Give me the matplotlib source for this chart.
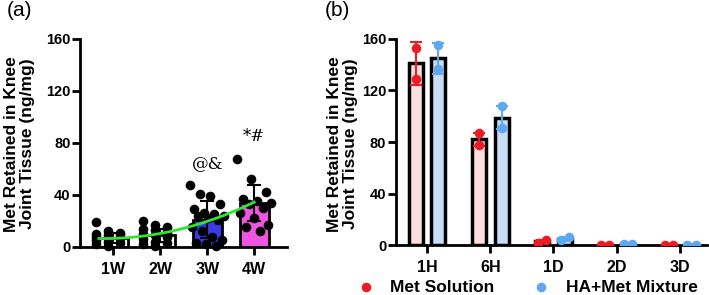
import numpy as np
import matplotlib.pyplot as plt

plt.rcParams['font.family'] = ['Liberation Sans', 'DejaVu Sans']

# ---------------- panel (a) data ----------------
weeks = ["1W", "2W", "3W", "4W"]
week_means = [7, 9, 21, 34]
week_sd = [4, 5, 14, 14]
week_colors = ["white", "white", "#3a3ae8", "#ee55e0"]
pts_1w = [19, 12, 11, 10, 9, 8, 8, 7, 6, 5, 4, 3, 2, 1, 10]
pts_2w = [20, 17, 15, 14, 13, 12, 10, 9, 8, 6, 4, 3, 2, 1, 11]
pts_3w = [48, 41, 39, 33, 29, 26, 25, 24, 24, 22, 21, 15, 12, 8, 5, 3, 2, 1]
pts_4w = [68, 52, 42, 37, 35, 34, 33, 30, 26, 22, 17, 15, 12]
week_points = [pts_1w, pts_2w, pts_3w, pts_4w]
mark_text = ["@&", "*#"]
mark_week = [2, 3]
mark_y = [64, 85]

# ---------------- panel (b) data ----------------
times = ["1H", "6H", "1D", "2D", "3D"]
sol_means = [141, 82, 3, 0.5, 0.3]
sol_err = [17, 5, 1, 0.2, 0.1]
sol_pts = [[153, 129], [87, 78], [2, 4], [0.5, 0.5], [0.2, 0.2]]
mix_means = [145, 99, 5, 1, 0.3]
mix_err = [12, 9, 1, 0.2, 0.1]
mix_pts = [[155, 137], [108, 91], [4, 6], [1, 1], [0.2, 0.2]]

red = "#ec1c24"
blue = "#5ea8f2"
ylab = "Met Retained in Knee\nJoint Tissue (ng/mg)"

fig = plt.figure(figsize=(7.09, 2.95), dpi=100)
axa = fig.add_axes([0.113, 0.163, 0.292, 0.705])
axb = fig.add_axes([0.5585, 0.169, 0.439, 0.699])

for ax in (axa, axb):
    for s in ("top", "right"):
        ax.spines[s].set_visible(False)
    for s in ("left", "bottom"):
        ax.spines[s].set_linewidth(2)
    ax.tick_params(width=2, length=6)
    ax.tick_params(axis="y", pad=1, labelsize=10.5)
    ax.tick_params(axis="x", pad=5, labelsize=11.5)
    ax.set_ylim(0, 160)
    ax.set_yticks([0, 40, 80, 120, 160])
    for lab in ax.get_yticklabels():
        lab.set_fontweight("bold")

# y labels placed as figure text so both panels line up like the original
fig.text(0.027, 0.513, ylab, rotation=90, ha="center", va="center", fontsize=12.5,
         fontweight="bold", linespacing=1.1)
fig.text(0.483, 0.513, ylab, rotation=90, ha="center", va="center", fontsize=12.5,
         fontweight="bold", linespacing=1.1)

# panel (a)
xa = np.arange(len(weeks))
axa.bar(xa, week_means, width=0.62, color=week_colors, edgecolor="black",
        linewidth=2, zorder=2)
axa.errorbar(xa, week_means, yerr=week_sd, fmt="none", ecolor="black",
             elinewidth=1.5, capsize=5, capthick=1.5, zorder=3)
for i, pts in enumerate(week_points):
    n = len(pts)
    slots = np.linspace(-0.36, 0.36, n)
    xs = slots[(np.arange(n) * 5) % n]  # spread the dots across the bar
    axa.scatter(i + xs, pts, s=48, color="black", zorder=4, linewidths=0, clip_on=False)
# quadratic trend through the bar means
coef = np.polyfit(xa, week_means, 2)
xf = np.linspace(-0.3, 3, 100)
axa.plot(xf, np.polyval(coef, xf), color="#2ee62e", lw=2, zorder=5)
for txt, i, y in zip(mark_text, mark_week, mark_y):
    axa.text(i, y, txt, ha="center", va="center", fontsize=12, family="DejaVu Serif")
axa.set_xlim(-0.7, 3.7)
axa.set_xticks(xa)
axa.set_xticklabels(weeks, fontweight="bold")

# panel (b)
xb = np.arange(len(times))
off, w = 0.18, 0.22
axb.bar(xb - off, sol_means, width=w, color="#fddede", edgecolor="black", linewidth=2.5, zorder=2)
axb.bar(xb + off, mix_means, width=w, color="#c8def6", edgecolor="black", linewidth=2.5, zorder=2)
axb.errorbar(xb - off, sol_means, yerr=sol_err, fmt="none", ecolor=red, elinewidth=1.5,
             capsize=4, capthick=1.5, zorder=3)
axb.errorbar(xb + off, mix_means, yerr=mix_err, fmt="none", ecolor=blue, elinewidth=1.5,
             capsize=4, capthick=1.5, zorder=3)
for i in range(len(times)):
    jit = [0, 0] if i < 2 else [-0.065, 0.065]
    axb.scatter([i - off + j for j in jit], sol_pts[i], s=48, color=red, zorder=4, linewidths=0,
                label="Met Solution" if i == 0 else None)
    axb.scatter([i + off + j for j in jit], mix_pts[i], s=48, color=blue, zorder=4, linewidths=0,
                label="HA+Met Mixture" if i == 0 else None)
axb.set_xlim(-0.49, 4.43)
axb.set_xticks(xb)
axb.set_xticklabels(times, fontweight="bold")

fig.legend(loc="center left", bbox_to_anchor=(0.494, 0.027), ncol=2, frameon=False,
           prop={"weight": "bold", "size": 12.5}, handletextpad=0.9, columnspacing=2.2,
           handlelength=1, borderaxespad=0)

fig.text(0.009, 0.995, "(a)", fontsize=15, va="top")
fig.text(0.458, 0.995, "(b)", fontsize=15, va="top")

fig.savefig("out.png", dpi=100)
